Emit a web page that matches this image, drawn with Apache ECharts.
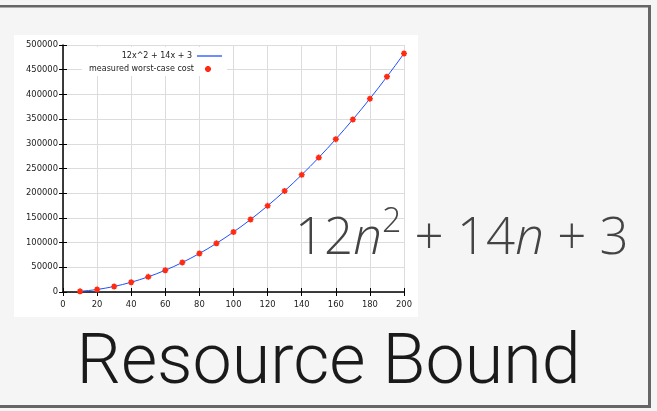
<!DOCTYPE html>
<html><head><meta charset="utf-8">
<script src="https://cdn.jsdelivr.net/npm/echarts@6/dist/echarts.min.js"></script>
<style>html,body{margin:0;padding:0;background:#f5f5f5;}#c{width:657px;height:411px;}</style>
</head><body><div id="c"></div>
<script>
// ---- data ----
const nValues = [10,20,30,40,50,60,70,80,90,100,110,120,130,140,150,160,170,180,190,200];
const measuredCost = [1300,5100,11200,19800,30700,44000,59800,77900,98500,121400,146700,174500,204600,237200,272100,309400,349200,391300,435900,482800];
const curveX = [10,15,20,25,30,35,40,45,50,55,60,65,70,75,80,85,90,95,100,105,110,115,120,125,130,135,140,145,150,155,160,165,170,175,180,185,190,195,200];
const curveY = [1343,2913,5083,7853,11223,15193,19763,24933,30703,37073,44043,51613,59783,68553,77923,87893,98463,109633,121403,133773,146743,160313,174483,189253,204623,220593,237163,254333,272103,290473,309443,329013,349183,369953,391323,413293,435863,459033,482803];
const xAxisRange = {min: 0, max: 200, interval: 20};
const yAxisRange = {min: 0, max: 500000, interval: 50000};
const lineName = '12x^2 + 14x + 3';
const pointName = 'measured worst-case cost';
const titleText = 'Resource Bound';

const star = 'path://M0,5L10,5M5,0L5,10M1.5,1.5L8.5,8.5M8.5,1.5L1.5,8.5';
const labelFont = {fontFamily: 'DejaVu Sans', fontSize: 8.4, color: '#222'};

const chart = echarts.init(document.getElementById('c'), null, {renderer: 'canvas'});
const baseX = {type: 'value', min: xAxisRange.min, max: xAxisRange.max, interval: xAxisRange.interval};
const baseY = {type: 'value', min: yAxisRange.min, max: yAxisRange.max, interval: yAxisRange.interval};
chart.setOption({
  animation: false,
  backgroundColor: '#f5f5f5',
  grid: {left: 63, right: 253, top: 45, bottom: 119},
  xAxis: [
    Object.assign({}, baseX, {
      position: 'bottom',
      axisLine: {show: true, lineStyle: {color: '#000', width: 1.5}},
      axisTick: {show: true, inside: true, length: 4, lineStyle: {color: '#000', width: 1}},
      axisLabel: Object.assign({margin: 9, formatter: v => String(v)}, labelFont),
      splitLine: {show: true, lineStyle: {color: '#dcdcdc', width: 1}}
    }),
    Object.assign({}, baseX, {
      position: 'top',
      axisLine: {show: false},
      axisTick: {show: true, inside: true, length: 4, lineStyle: {color: '#000', width: 1}},
      axisLabel: {show: false},
      splitLine: {show: false}
    })
  ],
  yAxis: [
    Object.assign({}, baseY, {
      position: 'left',
      axisLine: {show: true, lineStyle: {color: '#000', width: 1.5}},
      axisTick: {show: true, inside: true, length: 4, lineStyle: {color: '#000', width: 1}},
      axisLabel: Object.assign({margin: 5, formatter: v => String(v)}, labelFont),
      splitLine: {show: true, lineStyle: {color: '#dcdcdc', width: 1}}
    }),
    Object.assign({}, baseY, {
      position: 'right',
      axisLine: {show: false},
      axisTick: {show: true, inside: true, length: 4, lineStyle: {color: '#000', width: 1}},
      axisLabel: {show: false},
      splitLine: {show: false}
    })
  ],
  legend: [
    {
      data: [{name: lineName, icon: 'rect'}], right: 435, top: 51, padding: 0, align: 'right',
      itemWidth: 25, itemHeight: 1.3, selectedMode: false,
      textStyle: Object.assign({lineHeight: 10}, labelFont, {fontSize: 8})
    },
    {
      data: [{name: pointName, icon: star}], right: 445, top: 64, padding: 0, align: 'right',
      itemWidth: 6, itemHeight: 6, selectedMode: false,
      textStyle: Object.assign({lineHeight: 10, padding: [0, 6, 0, 0]}, labelFont, {fontSize: 8})
    }
  ],
  graphic: [
    {type: 'rect', z: -10, shape: {x: 14, y: 35, width: 404, height: 282}, style: {fill: '#fff'}},
    {type: 'rect', z: 1, shape: {x: 82, y: 47, width: 145, height: 29}, style: {fill: '#fff'}},
    {type: 'rect', z: 10, shape: {x: 0, y: 5, width: 651, height: 2.5}, style: {fill: '#666'}},
    {type: 'rect', z: 10, shape: {x: 648, y: 5, width: 3, height: 403}, style: {fill: '#666'}},
    {type: 'rect', z: 10, shape: {x: 0, y: 405, width: 651, height: 3}, style: {fill: '#666'}},
    {
      type: 'text', z: 20, left: 295, top: 205,
      style: {
        text: '{d|12}{i|n}{s|2}{d| + 14}{i|n}{d| + 3}',
        rich: {
          d: {fontFamily: 'Open Sans', fontWeight: 300, fontSize: 51, fill: '#444', verticalAlign: 'bottom', lineHeight: 60},
          i: {fontFamily: 'Open Sans', fontWeight: 300, fontStyle: 'italic', fontSize: 51, fill: '#444', verticalAlign: 'bottom', lineHeight: 60},
          s: {fontFamily: 'Open Sans', fontWeight: 300, fontSize: 34, fill: '#444', verticalAlign: 'top', lineHeight: 60}
        }
      }
    },
    {
      type: 'text', z: 20, left: 'center', top: 330,
      style: {text: titleText, fontFamily: 'Roboto', fontWeight: 300, fontSize: 70, fill: '#1a1a1a'}
    }
  ],
  series: [
    {
      name: lineName, type: 'line', xAxisIndex: 0, yAxisIndex: 0,
      data: curveX.map((x, i) => [x, curveY[i]]),
      symbol: 'none', smooth: false,
      lineStyle: {color: '#1f4fff', width: 1}, itemStyle: {color: '#1f4fff'}, z: 2
    },
    {
      name: pointName, type: 'scatter', xAxisIndex: 0, yAxisIndex: 0,
      data: nValues.map((x, i) => [x, measuredCost[i]]),
      symbol: star, symbolSize: 6,
      itemStyle: {color: '#ff2a10', borderColor: '#ff2a10', borderWidth: 1.6, opacity: 1}, z: 3
    }
  ]
});
</script></body></html>
